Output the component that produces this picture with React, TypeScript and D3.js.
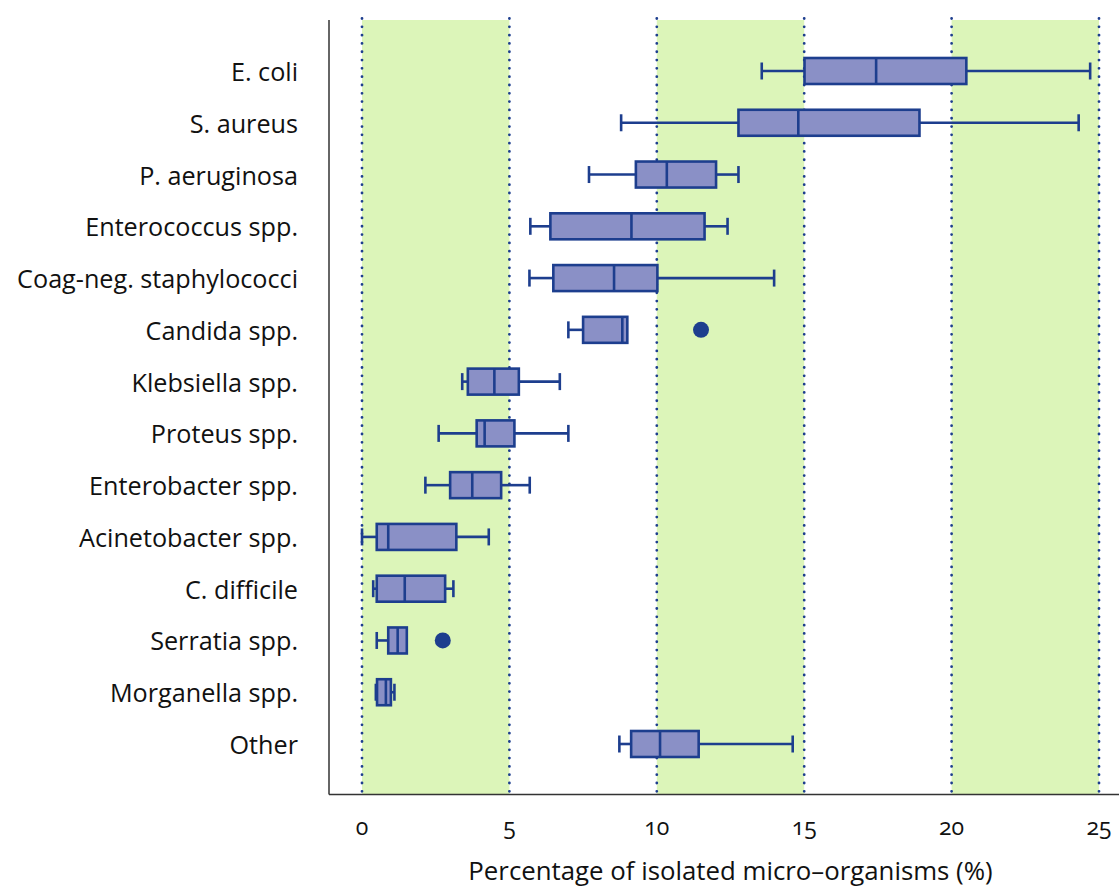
import React from "react";
import * as d3 from "d3";

const categories = [
  "E. coli",
  "S. aureus",
  "P. aeruginosa",
  "Enterococcus spp.",
  "Coag-neg. staphylococci",
  "Candida spp.",
  "Klebsiella spp.",
  "Proteus spp.",
  "Enterobacter spp.",
  "Acinetobacter spp.",
  "C. difficile",
  "Serratia spp.",
  "Morganella spp.",
  "Other",
];
const whiskerLow = [13.56, 8.79, 7.7, 5.71, 5.68, 7.0, 3.4, 2.6, 2.15, 0.0, 0.38, 0.5, 0.47, 8.73];
const q1 = [15.01, 12.77, 9.29, 6.39, 6.49, 7.5, 3.59, 3.89, 2.99, 0.5, 0.5, 0.89, 0.51, 9.13];
const median = [17.44, 14.8, 10.34, 9.14, 8.55, 8.83, 4.49, 4.16, 3.74, 0.89, 1.45, 1.21, 0.81, 10.11];
const q3 = [20.5, 18.91, 12.01, 11.62, 10.02, 9.0, 5.32, 5.17, 4.72, 3.2, 2.82, 1.52, 0.98, 11.42];
const whiskerHigh = [24.7, 24.31, 12.77, 12.4, 13.98, 9.0, 6.71, 7.0, 5.69, 4.3, 3.1, 1.52, 1.1, 14.61];
const outlierCategories = ["Candida spp.", "Serratia spp."];
const outlierValues = [11.5, 2.74];
const xTicks = [0, 5, 10, 15, 20, 25];
const bands = [[0, 5], [10, 15], [20, 25]];
const xTitle = "Percentage of isolated micro\u2013organisms (%)";

const W = 1119;
const H = 887;
const axisX = 329;
const plotTop = 20;
const axisY = 794.5;

const BLUE = "#1d3e8e";
const FILL = "#8a90c6";
const GREEN = "#dcf5b9";
const FONT = "'Open Sans', 'Noto Sans', sans-serif";

export default function App() {
  const x = d3.scaleLinear().domain([0, 25]).range([362, 1099]);
  const y = d3.scalePoint<string>().domain(categories).range([71, 744]);
  const boxH = 26;
  const capH = 17;

  return (
    <svg width={W} height={H} style={{ position: "absolute", left: 0, top: 0, background: "#fff" }}>
      {bands.map(([a, b], i) => (
        <rect key={"band" + i} x={x(a)} y={plotTop} width={x(b) - x(a)} height={axisY - plotTop} fill={GREEN} />
      ))}
      {d3.range(0, 26, 5).map((v) => (
        <line
          key={"grid" + v}
          x1={x(v)}
          x2={x(v)}
          y1={18.5}
          y2={axisY}
          stroke={BLUE}
          strokeWidth={2.8}
          strokeDasharray="0.01 8.3"
          strokeLinecap="round"
        />
      ))}
      <line x1={axisX} x2={axisX} y1={plotTop} y2={axisY} stroke="#333" strokeWidth={1.5} />
      <line x1={axisX} x2={W} y1={axisY} y2={axisY} stroke="#333" strokeWidth={1.5} />

      {categories.map((c, i) => {
        const cy = y(c)!;
        return (
          <g key={c}>
            <text x={298} y={cy} textAnchor="end" dominantBaseline="central" fontFamily={FONT} fontSize={25.2} fill="#111">
              {c}
            </text>
            <line x1={x(whiskerLow[i])} x2={x(q1[i])} y1={cy} y2={cy} stroke={BLUE} strokeWidth={2.6} />
            <line x1={x(q3[i])} x2={x(whiskerHigh[i])} y1={cy} y2={cy} stroke={BLUE} strokeWidth={2.6} />
            {whiskerLow[i] < q1[i] && (
              <line x1={x(whiskerLow[i])} x2={x(whiskerLow[i])} y1={cy - capH / 2} y2={cy + capH / 2} stroke={BLUE} strokeWidth={2.6} />
            )}
            {whiskerHigh[i] > q3[i] && (
              <line x1={x(whiskerHigh[i])} x2={x(whiskerHigh[i])} y1={cy - capH / 2} y2={cy + capH / 2} stroke={BLUE} strokeWidth={2.6} />
            )}
            <rect
              x={x(q1[i])}
              y={cy - boxH / 2}
              width={x(q3[i]) - x(q1[i])}
              height={boxH}
              fill={FILL}
              stroke={BLUE}
              strokeWidth={2.6}
            />
            <line x1={x(median[i])} x2={x(median[i])} y1={cy - boxH / 2} y2={cy + boxH / 2} stroke={BLUE} strokeWidth={2.6} />
          </g>
        );
      })}

      {outlierCategories.map((c, i) => (
        <circle key={"o" + i} cx={x(outlierValues[i])} cy={y(c)!} r={8} fill={BLUE} />
      ))}

      {xTicks.map((t) => (
        <text
          key={"t" + t}
          x={x(t)}
          y={826}
          textAnchor="middle"
          dominantBaseline="central"
          fontFamily={FONT}
          fontSize={23}
          fill="#111"
          style={{ fontVariantNumeric: "oldstyle-nums" }}
        >
          {t}
        </text>
      ))}
      <text x={730.5} y={880} textAnchor="middle" fontFamily={FONT} fontSize={25.8} fill="#111">
        {xTitle}
      </text>
    </svg>
  );
}
